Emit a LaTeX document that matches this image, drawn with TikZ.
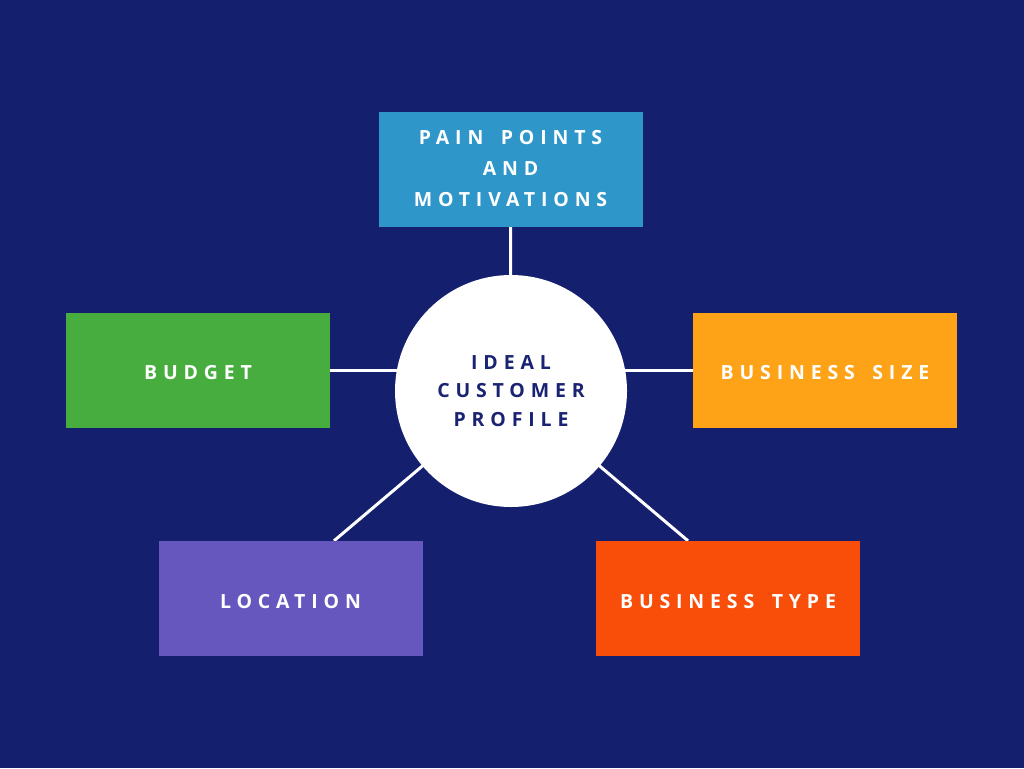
\documentclass[tikz,border=0pt]{standalone}
\usepackage{fontspec}
\setmainfont{Open Sans}[LetterSpace=30,WordSpace=1.6]
\definecolor{bgnavy}{HTML}{141F6E}
\definecolor{txnavy}{HTML}{1A2372}
\definecolor{cblue}{HTML}{2E96C8}
\definecolor{cgreen}{HTML}{46AD3E}
\definecolor{corange}{HTML}{FEA318}
\definecolor{cpurple}{HTML}{6657BF}
\definecolor{cred}{HTML}{F84E0A}
\pgfdeclarelayer{bg}
\pgfdeclarelayer{links}
\pgfsetlayers{bg,links,main}
\tikzset{
  card/.style={rectangle, minimum width=264pt, minimum height=115pt, inner sep=0pt,
    text=white, align=center, font=\fontsize{19.5}{31}\selectfont\bfseries},
  onecard/.style={card, text height=19pt, text depth=0pt},
  hub/.style={circle, fill=white, minimum size=232pt, inner sep=0pt,
    text=txnavy, align=center, font=\fontsize{19.5}{28.5}\selectfont\bfseries},
  link/.style={draw=white, line width=3pt}
}
\begin{document}
\begin{tikzpicture}[x=1pt,y=-1pt]
\begin{pgfonlayer}{bg}
\fill[bgnavy] (0,0) rectangle (1024,768);
\end{pgfonlayer}
\useasboundingbox (0,0) rectangle (1024,768);
\node[hub] (circ) at (511,391) {IDEAL\\CUSTOMER\\PROFILE};
\node[card, fill=cblue] (pain) at (510.5,169) {PAIN POINTS\\AND\\MOTIVATIONS};
\node[onecard, fill=cgreen] (budget) at (198,370) {BUDGET};
\node[onecard, fill=corange] (size) at (825,370) {BUSINESS SIZE};
\node[onecard, fill=cpurple] (loc) at (290.5,598.5) {LOCATION};
\node[onecard, fill=cred] (type) at (728,598.5) {BUSINESS TYPE};
\begin{pgfonlayer}{links}
\draw[link] (pain.south) -- (circ.center);
\draw[link] (budget.east) -- (budget.east -| circ.center);
\draw[link] (size.west) -- (size.west -| circ.center);
\draw[link] ([xshift=43.5pt]loc.north) -- (circ.center);
\draw[link] ([xshift=-40pt]type.north) -- (circ.center);
\end{pgfonlayer}
\end{tikzpicture}
\end{document}
